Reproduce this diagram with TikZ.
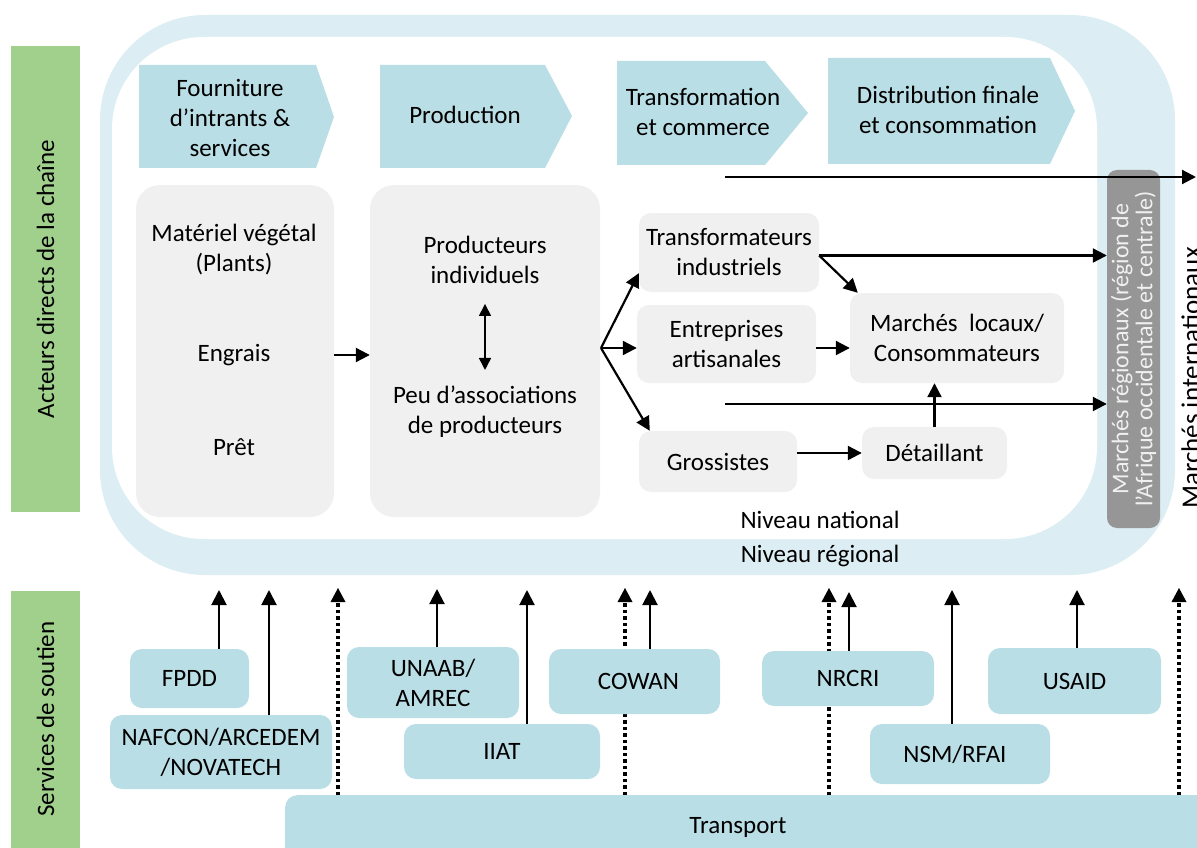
\documentclass[tikz,border=0pt]{standalone}
\usepackage{fontspec}
\setmainfont{Carlito}
\usetikzlibrary{arrows.meta}
\definecolor{chev}{RGB}{186,222,229}
\definecolor{outerbl}{RGB}{220,238,243}
\definecolor{lgrey}{RGB}{240,240,240}
\definecolor{dgrey}{RGB}{150,150,150}
\definecolor{greenlab}{RGB}{160,208,140}
\begin{document}
\begin{tikzpicture}[x=1pt,y=-1pt,
  font=\fontsize{25}{30}\selectfont,
  txt/.style={align=center,inner sep=0pt},
  gbox/.style={fill=lgrey,rounded corners=24pt,inner sep=0pt},
  cbox/.style={fill=lgrey,rounded corners=12pt,align=center,inner sep=0pt},
  sbox/.style={fill=chev,rounded corners=12pt,align=center,inner sep=0pt},
  chevshape/.style={fill=chev},
  glab/.style={fill=greenlab,inner sep=0pt},
  ar/.style={line width=2.2pt,-{Triangle[width=14pt,length=14pt]}},
  dar/.style={line width=1.6pt,{Triangle[width=12pt,length=12pt]}-{Triangle[width=12pt,length=12pt]}},
  sar/.style={line width=2pt,-{Triangle[width=15pt,length=15pt]}},
  dotar/.style={line width=3.5pt,dash pattern=on 3.5pt off 3pt,-{Triangle[width=15pt,length=14pt,line width=0pt]}}
]
\useasboundingbox (0,0) rectangle (1197,848);

% side labels
\node[glab,minimum width=69pt,minimum height=466pt] (lab1) at (45.5,279) {};
\node[txt,rotate=90] (lab1t) at (lab1.center) {Acteurs directs de la chaîne};
\node[glab,minimum width=69pt,minimum height=270pt,anchor=north west] (lab2) at (11,591) {};
\node[txt,rotate=90] (lab2t) at (45.5,719) {Services de soutien};

% regional and national levels
\fill[outerbl,rounded corners=105pt] (100,15) rectangle (1175,575);
\fill[white,rounded corners=92pt] (112,37) rectangle (1097,539);
\node[txt] (nat) at (820,520) {Niveau national};
\node[txt] (regl) at (820,556) {Niveau régional};

% chevrons
\fill[chevshape] (139,65) -- (316,65) -- (334,117) -- (316,168) -- (139,168) -- cycle;
\node[txt] (c1) at (230,118) {Fourniture\\d’intrants \&\\services};
\fill[chevshape] (380,65) -- (545,65) -- (572,116) -- (545,168) -- (380,168) -- cycle;
\node[txt] (c2) at (465,115) {Production};
\fill[chevshape] (617,61) -- (765,61) -- (808,113) -- (765,165) -- (617,165) -- cycle;
\node[txt] (c3) at (703,112) {Transformation\\et commerce};
\fill[chevshape] (828,58) -- (1050,58) -- (1075,111) -- (1050,164) -- (828,164) -- cycle;
\node[txt] (c4) at (948,110) {Distribution finale\\et consommation};

% input and production blocks
\node[gbox,minimum width=198pt,minimum height=332pt] (inp) at (235,351) {};
\node[txt] (mat) at (234,250) {Matériel végétal\\(Plants)};
\node[txt] (eng) at (234,355) {Engrais};
\node[txt] (pret) at (234,447) {Prêt};
\node[gbox,minimum width=230pt,minimum height=332pt] (prod) at (485,351) {};
\node[txt] (pind) at (485,260) {Producteurs\\individuels};
\node[txt] (pass) at (485,412) {Peu d’associations\\de producteurs};
\draw[dar,shorten <=20pt,shorten >=16pt] (pind.south) -- (pass.north);
\draw[ar] (inp.east |- eng) -- (prod.west |- eng);

% processing and trade
\node[cbox,minimum width=180pt,minimum height=79pt] (ti) at (729,252.5) {Transformateurs\\industriels};
\node[cbox,minimum width=179pt,minimum height=78pt] (ea) at (726.5,344) {Entreprises\\artisanales};
\node[cbox,minimum width=158pt,minimum height=61pt] (gr) at (718,461.5) {Grossistes};
\node[cbox,minimum width=214pt,minimum height=90pt] (ml) at (957,338) {Marchés\ \ locaux/\\Consommateurs};
\node[cbox,minimum width=145pt,minimum height=52pt] (dt) at (934.5,453) {Détaillant};

% regional markets
\node[fill=dgrey,rounded corners=10pt,minimum width=53pt,minimum height=358pt,inner sep=0pt] (reg) at (1133.5,349) {};
\node[txt,rotate=90,text=lgrey,font=\fontsize{24}{24}\selectfont] (regt) at (reg.center) {Marchés régionaux (région de\\l’Afrique occidentale et centrale)};
\node[txt,rotate=90,anchor=base,font=\fontsize{27}{30}\selectfont] (intl) at (1200,378) {Marchés internationaux};

\coordinate (fan) at (601,348);
\draw[ar] (fan) -- ([yshift=19pt]ti.south west);
\draw[ar] (fan) -- (fan -| ea.west);
\draw[ar] (fan) -- ([xshift=11pt]gr.north west);
\draw[ar] ([yshift=-3pt]ti.east) -- ([xshift=8pt]ml.north west);
\draw[ar] ([yshift=-3pt]ti.east) -- ([yshift=-3pt]ti.east -| reg.west);
\draw[ar] ([yshift=-4pt]ea.east) -- ([yshift=-4pt]ea.east -| ml.west);
\draw[ar] (gr.east |- dt.west) -- (dt.west);
\draw[ar] (dt.north) -- (dt.north |- ml.south);
\coordinate (l2) at (725,404);
\draw[ar] (l2) -- (l2 -| reg.west);
\coordinate (l1) at (725,177);
\coordinate (l1e) at (1196,177);
\draw[ar] (l1) -- (l1e);

% support services
\node[sbox,minimum width=925pt,minimum height=70pt,anchor=north west,rounded corners=12pt] (tr) at (285,795) {};
\node[txt] (trt) at (738,827) {Transport};
\coordinate (d1) at (338,588);
\coordinate (d2) at (625,588);
\coordinate (d3) at (829,588);
\coordinate (d4) at (1179,588);
\foreach \d in {d1,d2,d3,d4} \draw[dotar] (\d |- tr.north) -- (\d);

\node[sbox,minimum width=119pt,minimum height=59pt] (fpdd) at (189.5,678.5) {FPDD};
\node[sbox,minimum width=222pt,minimum height=74pt] (naf) at (221,752) {NAFCON/ARCEDEM\\/NOVATECH};
\node[sbox,minimum width=172pt,minimum height=71pt] (unaab) at (433,682.5) {UNAAB/\\AMREC};
\node[sbox,minimum width=196pt,minimum height=55pt] (iiat) at (502,751.5) {IIAT};
\node[sbox,minimum width=171pt,minimum height=65pt] (cowan) at (634.5,681.5) {\hspace*{8pt}COWAN};
\node[sbox,minimum width=172pt,minimum height=55pt] (nrcri) at (848,678.5) {NRCRI};
\node[sbox,minimum width=180pt,minimum height=60pt] (nsm) at (960,754) {\hspace*{-10pt}NSM/RFAI};
\node[sbox,minimum width=173pt,minimum height=66pt] (usaid) at (1074.5,681) {USAID};

\coordinate (a1) at (219,590);
\coordinate (a2) at (269,590);
\coordinate (a3) at (437,589);
\coordinate (a4) at (527,590);
\coordinate (a5) at (650,590);
\coordinate (a6) at (849,592);
\coordinate (a7) at (952,590);
\coordinate (a8) at (1077,590);
\draw[sar] (a1 |- fpdd.north) -- (a1);
\draw[sar] (a2 |- naf.north) -- (a2);
\draw[sar] (a3 |- unaab.north) -- (a3);
\draw[sar] (a4 |- iiat.north) -- (a4);
\draw[sar] (a5 |- cowan.north) -- (a5);
\draw[sar] (a6 |- nrcri.north) -- (a6);
\draw[sar] (a7 |- nsm.north) -- (a7);
\draw[sar] (a8 |- usaid.north) -- (a8);
\end{tikzpicture}
\end{document}
